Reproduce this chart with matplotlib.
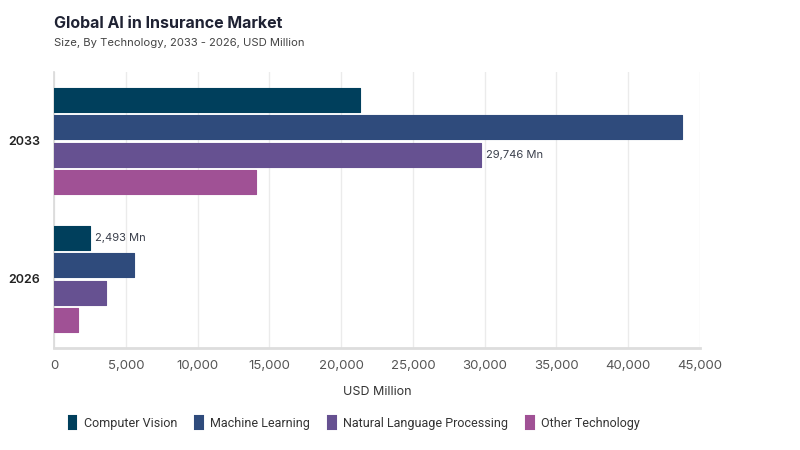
import matplotlib
matplotlib.use("Agg")
import matplotlib.pyplot as plt
from matplotlib.patches import Patch
from matplotlib.ticker import FuncFormatter

years = ["2026", "2033"]
series = ["Computer Vision", "Machine Learning", "Natural Language Processing", "Other Technology"]
computer_vision = [2493, 21350]
machine_learning = [5560, 43770]
nlp = [3590, 29746]
other_tech = [1660, 14050]
colors = ["#003f5c", "#2f4b7c", "#665191", "#a05195"]

values = [computer_vision, machine_learning, nlp, other_tech]

plt.rcParams['font.family'] = ['Inter', 'DejaVu Sans']

fig = plt.figure(figsize=(8, 4.5), dpi=100)
ax = fig.add_axes([0.0675, 0.2267, 0.8075, 0.6133])

offsets = [0.3, 0.1, -0.1, -0.3]
for vals, off, col in zip(values, offsets, colors):
    ys = [i + off for i in range(len(years))]
    ax.barh(ys, vals, height=0.175, color=col, edgecolor=col, linewidth=0.8,
            joinstyle='round', zorder=3)

# value annotations
ax.text(nlp[1] + 350, 1 - 0.1, "29,746 Mn", va='center', ha='left',
        fontsize=8, color='#3a3f4b')
ax.text(computer_vision[0] + 350, 0 + 0.3, "2,493 Mn", va='center', ha='left',
        fontsize=8, color='#3a3f4b')

ax.set_xlim(0, 45000)
ax.set_ylim(-0.5, 1.5)
ax.set_xticks(range(0, 45001, 5000))
ax.xaxis.set_major_formatter(FuncFormatter(lambda v, p: f"{int(v):,}"))
ax.set_yticks([0, 1])
ax.set_yticklabels(years, fontweight='semibold')
ax.tick_params(axis='x', length=0, pad=9, labelsize=9.5, labelcolor='#555555')
ax.tick_params(axis='y', length=0, pad=10, labelsize=9, labelcolor='#222222')
ax.grid(axis='x', color='#ebebeb', linewidth=1, zorder=0)
for s in ['top', 'right']:
    ax.spines[s].set_visible(False)
ax.spines['left'].set_color('#d9d9d9')
ax.spines['left'].set_linewidth(1.2)
ax.spines['bottom'].set_color('#dddddd')
ax.spines['bottom'].set_linewidth(2)

ax.set_xlabel("USD Million", fontsize=9, color='#333333', labelpad=10)

fig.text(0.0675, 0.937, "Global AI in Insurance Market", fontsize=11.5,
         fontweight='bold', color='#1f2233')
fig.text(0.0675, 0.897, "Size, By Technology, 2033 - 2026, USD Million",
         fontsize=8.1, color='#444444')

handles = [Patch(facecolor=c, edgecolor=c, label=s, joinstyle='round', linewidth=1.5)
           for s, c in zip(series, colors)]
fig.legend(handles=handles, loc='center left', bbox_to_anchor=(0.072, 0.06),
           ncol=4, frameon=False, handlelength=0.6, handleheight=1.2,
           handletextpad=0.6, columnspacing=1.45,
           prop={'family': ['Roboto', 'DejaVu Sans'], 'size': 9},
           labelcolor='#333333')

fig.savefig("out.png", dpi=100)
